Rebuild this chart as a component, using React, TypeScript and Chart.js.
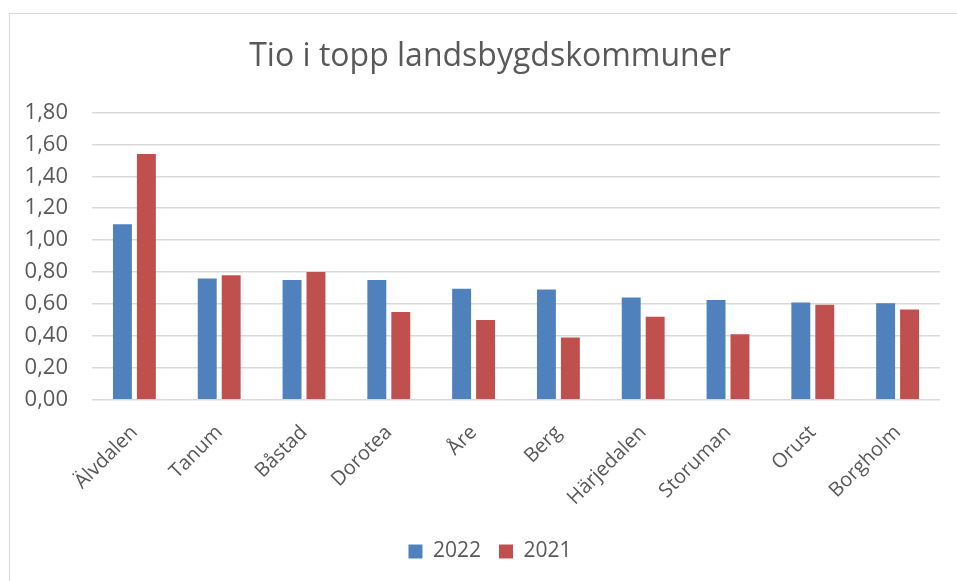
import React, { useEffect, useRef } from "react";
import { Chart, registerables } from "chart.js";

Chart.register(...registerables);

const categories = ["Älvdalen", "Tanum", "Båstad", "Dorotea", "Åre", "Berg", "Härjedalen", "Storuman", "Orust", "Borgholm"];
const values2022 = [1.10, 0.76, 0.75, 0.75, 0.695, 0.69, 0.64, 0.625, 0.61, 0.605];
const values2021 = [1.54, 0.78, 0.80, 0.55, 0.50, 0.39, 0.52, 0.41, 0.595, 0.565];
const seriesNames = ["2022", "2021"];
const titleText = "Tio i topp landsbygdskommuner";

const FONT = "'Open Sans', 'Noto Sans', sans-serif";
const TEXT = "#595959";

const borderPlugin = {
  id: "outerBorder",
  beforeDraw(chart: any) {
    const ctx = chart.ctx;
    ctx.save();
    ctx.fillStyle = "#ffffff";
    ctx.fillRect(0, 0, chart.width, chart.height);
    ctx.strokeStyle = "#d9d9d9";
    ctx.lineWidth = 1;
    ctx.strokeRect(9.5, 13.5, chart.width + 20, chart.height + 20);
    ctx.restore();
  },
};

export default function App() {
  const ref = useRef<HTMLCanvasElement | null>(null);
  useEffect(() => {
    document.body.style.margin = "0";
    if (!ref.current) return;
    const chart = new Chart(ref.current, {
      type: "bar",
      data: {
        labels: categories,
        datasets: [
          { label: seriesNames[0], data: values2022, backgroundColor: "#4F81BD", categoryPercentage: 0.565, barPercentage: 0.79 },
          { label: seriesNames[1], data: values2021, backgroundColor: "#C0504D", categoryPercentage: 0.565, barPercentage: 0.79 },
        ],
      },
      options: {
        responsive: false,
        animation: false,
        layout: { padding: { left: 23, right: 0, top: 13, bottom: 9 } },
        plugins: {
          title: {
            display: true,
            text: titleText,
            color: TEXT,
            font: { family: FONT, size: 32, weight: "normal" },
            padding: { top: 25, bottom: 36 },
          },
          legend: {
            position: "bottom",
            labels: {
              color: TEXT,
              font: { family: FONT, size: 21 },
              boxWidth: 14,
              boxHeight: 14,
              padding: 18,
            },
          },
          tooltip: { enabled: false },
        },
        scales: {
          x: {
            grid: { display: false },
            border: { display: false },
            ticks: {
              color: TEXT,
              font: { family: FONT, size: 20 },
              maxRotation: 45,
              minRotation: 45,
              padding: 13,
            },
          },
          y: {
            min: 0,
            max: 1.8,
            border: { display: false },
            grid: { color: "#d9d9d9", lineWidth: 1.5, drawTicks: false },
            ticks: {
              stepSize: 0.2,
              color: TEXT,
              font: { family: FONT, size: 22 },
              padding: 24,
              callback: (v: any) => Number(v).toFixed(2).replace(".", ","),
            },
            afterFit: (s: any) => { s.width = 69; },
          },
          y2: {
            position: "right",
            display: true,
            grid: { display: false, drawTicks: false },
            border: { display: false },
            ticks: { display: false },
            afterFit: (s: any) => { s.width = 17; },
          },
        },
      },
      plugins: [borderPlugin],
    } as any);
    return () => chart.destroy();
  }, []);
  return (
    <div style={{ width: 957, height: 581 }}>
      <canvas ref={ref} width={957} height={581} />
    </div>
  );
}
